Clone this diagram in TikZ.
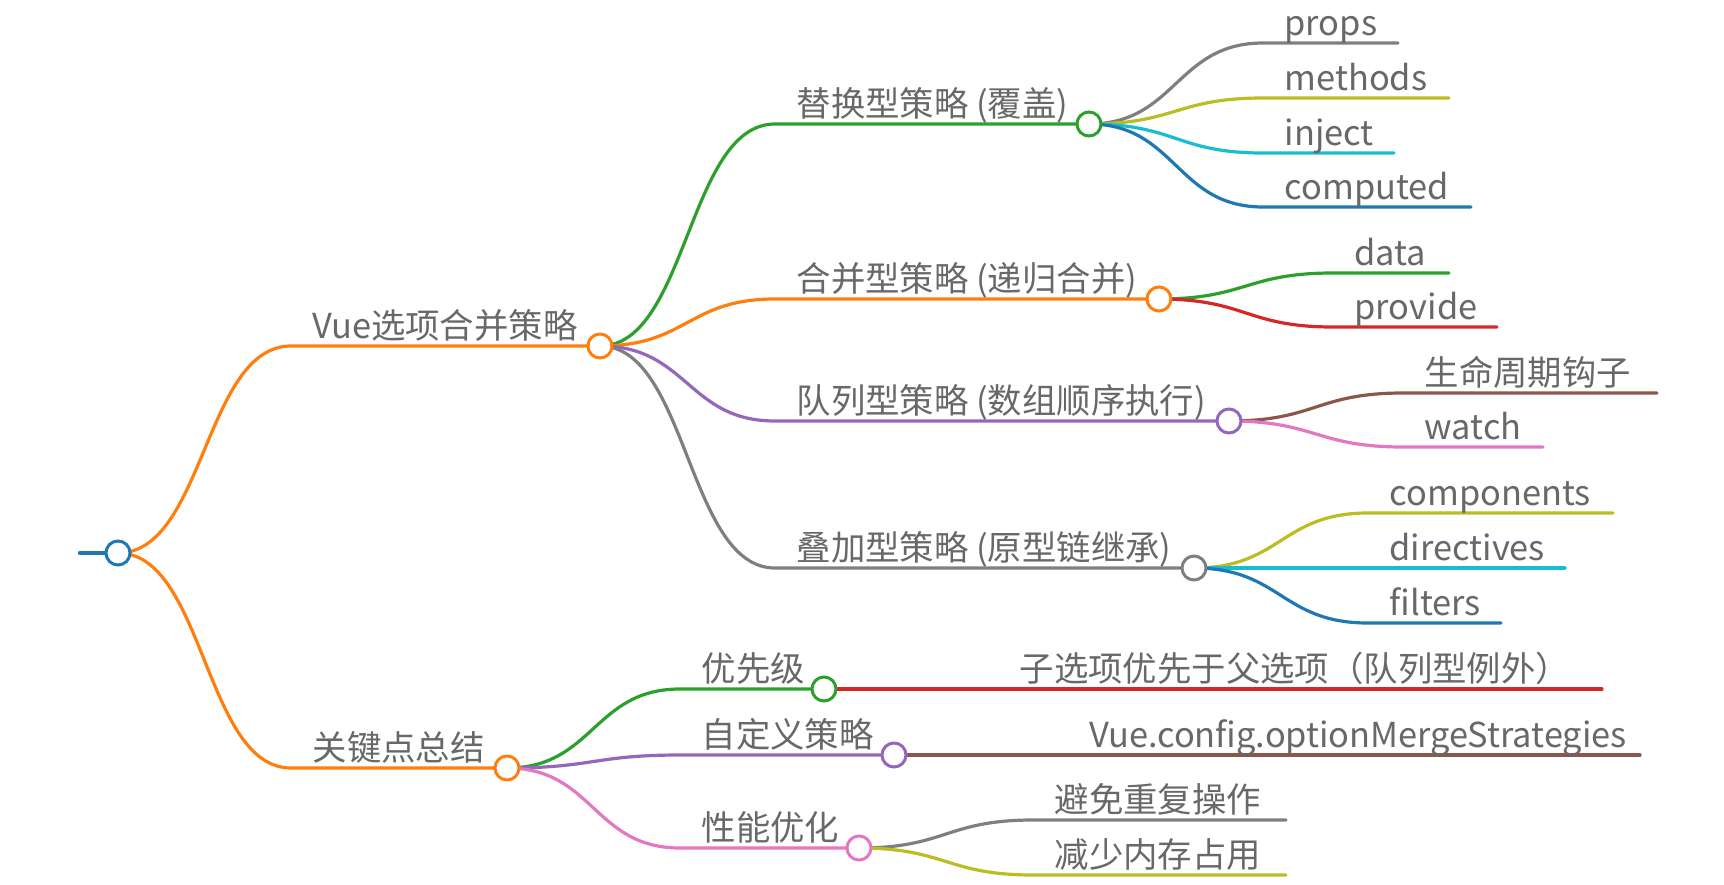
\documentclass[tikz,border=0pt]{standalone}
\usepackage{fontspec}
\setmainfont{Noto Sans CJK SC}
\usepackage{xcolor}
\usetikzlibrary{calc}

\definecolor{mblue}{HTML}{1F77B4}
\definecolor{morange}{HTML}{FF7F0E}
\definecolor{mgreen}{HTML}{2CA02C}
\definecolor{mred}{HTML}{D62728}
\definecolor{mpurple}{HTML}{9467BD}
\definecolor{mbrown}{HTML}{8C564B}
\definecolor{mpink}{HTML}{E377C2}
\definecolor{mgray}{HTML}{7F7F7F}
\definecolor{molive}{HTML}{BCBD22}
\definecolor{mcyan}{HTML}{17BECF}
\definecolor{txtgray}{HTML}{686868}

\tikzset{
  sig/.style={to path={.. controls ($(\tikztostart)!.5!(\tikztotarget|-\tikztostart)$) and ($(\tikztostart|-\tikztotarget)!.5!(\tikztotarget)$) .. (\tikztotarget)}},
  dot/.style={circle, draw=#1, fill=white, line width=1.5pt, minimum size=12pt, inner sep=0pt},
  lbl/.style={anchor=base west, inner sep=0pt, text=txtgray, font=\fontsize{17.2}{21}\selectfont},
}

\begin{document}
\begin{tikzpicture}[x=0.5pt, y=-0.5pt, line width=1.6pt, line cap=round]
    \useasboundingbox (0,0) rectangle (1724,884);
    % circle centres
    \coordinate (root) at (118,553);
    \coordinate (vue) at (600,346);   \coordinate (key) at (507,768);
    \coordinate (rep) at (1089,124);  \coordinate (mrg) at (1159,299);
    \coordinate (que) at (1229,421);  \coordinate (ovl) at (1194,568);
    \coordinate (pri) at (824,689);   \coordinate (cus) at (894,755);
    \coordinate (perf) at (859,848);
    % starts of the underlines
    \coordinate (s0) at (80,553);
    \coordinate (a-vue) at (291,346);   \coordinate (a-key) at (291,768);
    \coordinate (a-rep) at (775,124);   \coordinate (a-mrg) at (775,299);
    \coordinate (a-que) at (775,421);   \coordinate (a-ovl) at (775,568);
    \coordinate (a-pri) at (680,689);   \coordinate (a-cus) at (680,755);
    \coordinate (a-perf) at (680,848);
    % leaves
    \coordinate (a-props) at (1263,43);     \coordinate (b-props) at (1398,43);
    \coordinate (a-methods) at (1263,98);   \coordinate (b-methods) at (1449,98);
    \coordinate (a-inject) at (1263,153);   \coordinate (b-inject) at (1394,153);
    \coordinate (a-computed) at (1263,207); \coordinate (b-computed) at (1471,207);
    \coordinate (a-data) at (1333,273);     \coordinate (b-data) at (1449,273);
    \coordinate (a-provide) at (1333,327);  \coordinate (b-provide) at (1497,327);
    \coordinate (a-hook) at (1403,393);     \coordinate (b-hook) at (1657,393);
    \coordinate (a-watch) at (1403,447);    \coordinate (b-watch) at (1543,447);
    \coordinate (a-comp) at (1368,513);     \coordinate (b-comp) at (1613,513);
    \coordinate (a-dir) at (1368,568);      \coordinate (b-dir) at (1565,568);
    \coordinate (a-filt) at (1368,623);     \coordinate (b-filt) at (1501,623);
    \coordinate (a-child) at (998,689);     \coordinate (b-child) at (1602,689);
    \coordinate (a-conf) at (1068,755);     \coordinate (b-conf) at (1640,755);
    \coordinate (a-avoid) at (1033,820);    \coordinate (b-avoid) at (1286,820);
    \coordinate (a-mem) at (1033,875);      \coordinate (b-mem) at (1286,875);

    % links
    \draw[mblue, line width=2.2pt] (s0) -- (root);
    \draw[morange] (root) to[sig] (a-vue) -- (vue);
    \draw[morange] (root) to[sig] (a-key) -- (key);
    \draw[mgreen] (vue) to[sig] (a-rep) -- (rep);
    \draw[morange] (vue) to[sig] (a-mrg) -- (mrg);
    \draw[mpurple] (vue) to[sig] (a-que) -- (que);
    \draw[mgray] (vue) to[sig] (a-ovl) -- (ovl);
    \draw[mgray] (rep) to[sig] (a-props) -- (b-props);
    \draw[molive] (rep) to[sig] (a-methods) -- (b-methods);
    \draw[mcyan] (rep) to[sig] (a-inject) -- (b-inject);
    \draw[mblue] (rep) to[sig] (a-computed) -- (b-computed);
    \draw[mgreen] (mrg) to[sig] (a-data) -- (b-data);
    \draw[mred] (mrg) to[sig] (a-provide) -- (b-provide);
    \draw[mbrown] (que) to[sig] (a-hook) -- (b-hook);
    \draw[mpink] (que) to[sig] (a-watch) -- (b-watch);
    \draw[molive] (ovl) to[sig] (a-comp) -- (b-comp);
    \draw[mcyan] (ovl) to[sig] (a-dir) -- (b-dir);
    \draw[mblue] (ovl) to[sig] (a-filt) -- (b-filt);
    \draw[mgreen] (key) to[sig] (a-pri) -- (pri);
    \draw[mpurple] (key) to[sig] (a-cus) -- (cus);
    \draw[mpink] (key) to[sig] (a-perf) -- (perf);
    \draw[mred] (pri) to[sig] (a-child) -- (b-child);
    \draw[mbrown] (cus) to[sig] (a-conf) -- (b-conf);
    \draw[mgray] (perf) to[sig] (a-avoid) -- (b-avoid);
    \draw[molive] (perf) to[sig] (a-mem) -- (b-mem);

    % circles
    \node[dot=mblue] (root-dot) at (root) {};
    \node[dot=morange] (vue-dot) at (vue) {};
    \node[dot=morange] (key-dot) at (key) {};
    \node[dot=mgreen] (rep-dot) at (rep) {};
    \node[dot=morange] (mrg-dot) at (mrg) {};
    \node[dot=mpurple] (que-dot) at (que) {};
    \node[dot=mgray] (ovl-dot) at (ovl) {};
    \node[dot=mgreen] (pri-dot) at (pri) {};
    \node[dot=mpurple] (cus-dot) at (cus) {};
    \node[dot=mpink] (perf-dot) at (perf) {};

    % labels
    \node[lbl] (t-vue) at (311,338) {Vue选项合并策略};
    \node[lbl] (t-key) at (311,760) {关键点总结};
    \node[lbl] (t-rep) at (795,116) {替换型策略 (覆盖)};
    \node[lbl] (t-mrg) at (795,291) {合并型策略 (递归合并)};
    \node[lbl] (t-que) at (795,413) {队列型策略 (数组顺序执行)};
    \node[lbl] (t-ovl) at (795,560) {叠加型策略 (原型链继承)};
    \node[lbl] (t-props) at (1283,35) {props};
    \node[lbl] (t-methods) at (1283,90) {methods};
    \node[lbl] (t-inject) at (1283,145) {inject};
    \node[lbl] (t-computed) at (1283,199) {computed};
    \node[lbl] (t-data) at (1353,265) {data};
    \node[lbl] (t-provide) at (1353,319) {provide};
    \node[lbl] (t-hook) at (1423,385) {生命周期钩子};
    \node[lbl] (t-watch) at (1423,439) {watch};
    \node[lbl] (t-comp) at (1388,505) {components};
    \node[lbl] (t-dir) at (1388,560) {directives};
    \node[lbl] (t-filt) at (1388,615) {filters};
    \node[lbl] (t-pri) at (700,681) {优先级};
    \node[lbl] (t-cus) at (700,747) {自定义策略};
    \node[lbl] (t-perf) at (700,840) {性能优化};
    \node[lbl] (t-child) at (1018,681) {子选项优先于父选项（队列型例外）};
    \node[lbl] (t-conf) at (1088,747) {Vue.config.optionMergeStrategies};
    \node[lbl] (t-avoid) at (1053,812) {避免重复操作};
    \node[lbl] (t-mem) at (1053,867) {减少内存占用};
\end{tikzpicture}
\end{document}
